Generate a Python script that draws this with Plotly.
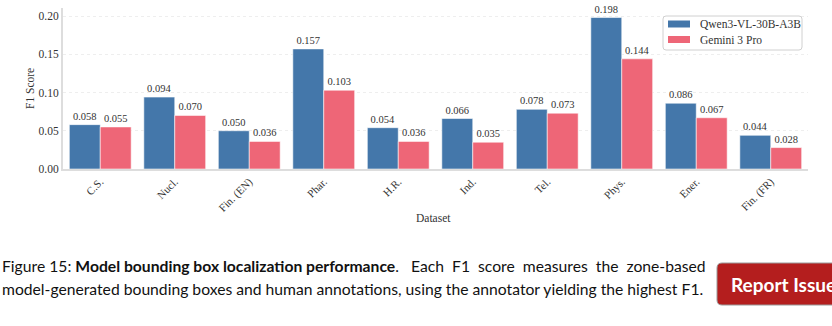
import plotly.graph_objects as go

categories = ["C.S.", "Nucl.", "Fin. (EN)", "Phar.", "H.R.", "Ind.", "Tel.", "Phys.", "Ener.", "Fin. (FR)"]
qwen_f1 = [0.058, 0.094, 0.050, 0.157, 0.054, 0.066, 0.078, 0.198, 0.086, 0.044]
gemini_f1 = [0.055, 0.070, 0.036, 0.103, 0.036, 0.035, 0.073, 0.144, 0.067, 0.028]
series_names = ["Qwen3-VL-30B-A3B", "Gemini 3 Pro"]
y_ticks = [0.0, 0.05, 0.10, 0.15, 0.20]

W, H = 832, 326
ML, MR, MT, MB = 63, 24, 8, 157
PW, PH = W - ML - MR, H - MT - MB

def px_x(p):
    return (p - ML) / PW

def px_y(p):
    return (H - MB - p) / PH

serif = "Liberation Serif"
blue = "#4477AA"
red = "#EE6677"
colors = [blue, red]

fig = go.Figure()
for name, vals, col in zip(series_names, [qwen_f1, gemini_f1], colors):
    fig.add_trace(go.Bar(
        x=categories, y=vals, name=name,
        marker=dict(color=col, line=dict(color="rgba(255,255,255,0.55)", width=1)),
        texttemplate="%{y:.3f}", textposition="outside",
        textfont=dict(family=serif, size=10.5, color="#333"),
        cliponaxis=False, showlegend=False,
    ))

fig.update_layout(
    width=W, height=H,
    margin=dict(l=ML, r=MR, t=MT, b=MB, autoexpand=False),
    paper_bgcolor="white", plot_bgcolor="white",
    barmode="group", bargap=0.17, bargroupgap=0.0,
    font=dict(family=serif, size=11, color="#333"),
    showlegend=False,
    xaxis=dict(
        range=[-0.5, 9.5], tickangle=-45, showgrid=False,
        showline=True, linecolor="#dddddd", linewidth=2,
        ticks="", tickfont=dict(family=serif, size=11, color="#333"),
    ),
    yaxis=dict(
        range=[0, PH * 0.2 / 153], tickvals=y_ticks, ticktext=[f"{v:.2f}" for v in y_ticks],
        showgrid=True, gridcolor="#eeeeee", griddash="dot", gridwidth=1,
        showline=True, linecolor="#dddddd", linewidth=2,
        zeroline=False, ticks="",
        tickfont=dict(family=serif, size=11.5, color="#333"),
    ),
)

def P(x, y):
    return f"{px_x(x)},{px_y(y)}"

def rounded(x0, y0, x1, y1, r):
    return (f"M {P(x0 + r, y0)} L {P(x1 - r, y0)} Q {P(x1, y0)} {P(x1, y0 + r)} "
            f"L {P(x1, y1 - r)} Q {P(x1, y1)} {P(x1 - r, y1)} L {P(x0 + r, y1)} "
            f"Q {P(x0, y1)} {P(x0, y1 - r)} L {P(x0, y0 + r)} Q {P(x0, y0)} {P(x0 + r, y0)} Z")

anns = []
# custom legend
fig.add_shape(type="path", path=rounded(663, 16, 802, 50, 3), xref="paper", yref="paper",
              fillcolor="white", line=dict(color="#d0d0d0", width=1), layer="above")
for i, (name, col) in enumerate(zip(series_names, colors)):
    cy = 24 + i * 15.5
    fig.add_shape(type="rect", x0=px_x(668), x1=px_x(690), y0=px_y(cy - 3.5), y1=px_y(cy + 3.5),
                  xref="paper", yref="paper", fillcolor=col, line=dict(width=0), layer="above")
    anns.append(dict(text=name, x=px_x(698), y=px_y(cy), xref="paper", yref="paper",
                     showarrow=False, xanchor="left", yanchor="middle",
                     font=dict(family=serif, size=11.5, color="#333")))

anns.append(dict(text="F1 Score", x=px_x(30), y=px_y(89), xref="paper", yref="paper",
                 showarrow=False, textangle=-90, font=dict(family=serif, size=11.5, color="#333"),
                 xanchor="center", yanchor="middle"))
anns.append(dict(text="Dataset", x=px_x(433), y=px_y(218), xref="paper", yref="paper",
                 showarrow=False, font=dict(family=serif, size=11.5, color="#333"),
                 xanchor="center", yanchor="middle"))
cap_font = dict(family="Lato", size=15.7, color="#111")
anns.append(dict(text="Figure 15: <b>Model bounding box localization performance</b>.",
                 x=px_x(0), y=px_y(266), xref="paper", yref="paper", showarrow=False,
                 xanchor="left", yanchor="middle", font=cap_font))
anns.append(dict(text="Each  F1  score  measures  the  zone-based",
                 x=px_x(708), y=px_y(266), xref="paper", yref="paper", showarrow=False,
                 xanchor="right", yanchor="middle", font=cap_font))
anns.append(dict(text="model-generated bounding boxes and human annotations, using the annotator yielding the highest F1.",
                 x=px_x(0), y=px_y(289), xref="paper", yref="paper", showarrow=False,
                 xanchor="left", yanchor="middle", font=cap_font))
anns.append(dict(text="<b>Report Issue</b>",
                 x=px_x(729), y=px_y(284), xref="paper", yref="paper", showarrow=False,
                 xanchor="left", yanchor="middle", font=dict(family="Lato", size=19, color="white")))
fig.update_layout(annotations=anns)

# rounded button background
fig.add_shape(type="path", path=rounded(717, 263, 845, 305, 5), xref="paper", yref="paper",
              fillcolor="#B41E1E", line=dict(color="#9a9a9a", width=1), layer="above")

fig.write_html("out.html")
